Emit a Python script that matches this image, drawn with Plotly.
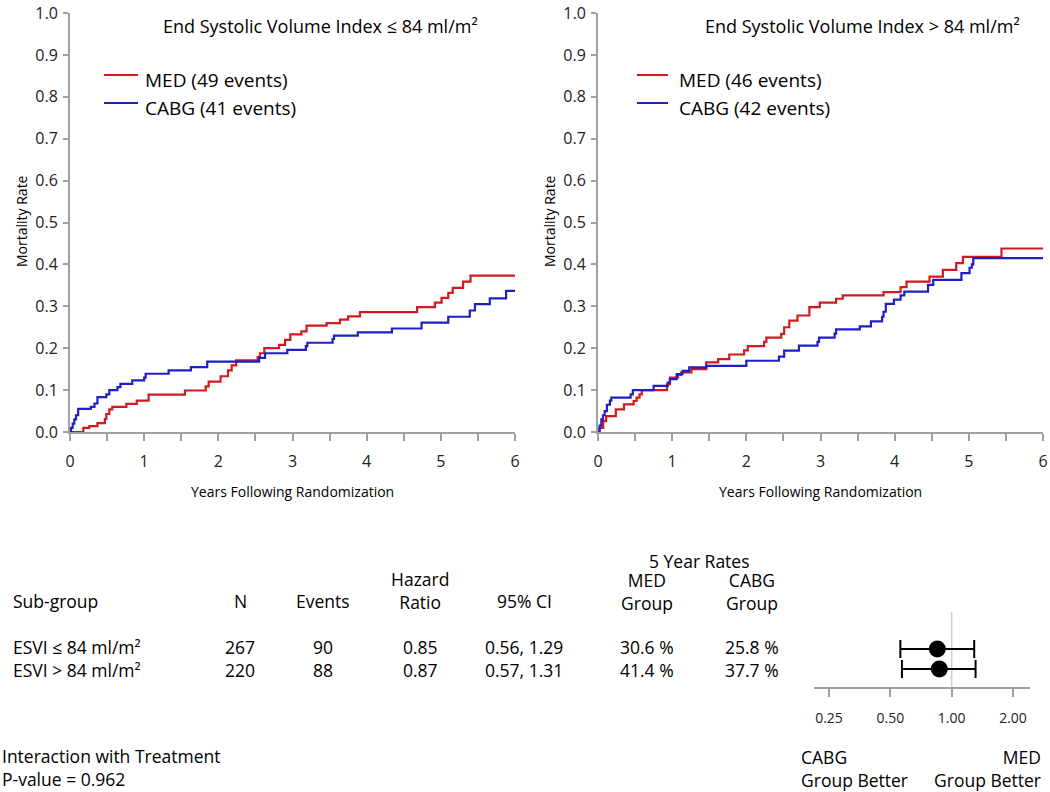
import plotly.graph_objects as go

# ---------------- data ----------------
# Left panel: ESVI <= 84 ml/m2
t_med_lo = [0, 0.18, 0.26, 0.37, 0.47, 0.49, 0.53, 0.57, 0.64, 0.76, 0.90, 1.06, 1.55, 1.83, 1.87, 1.91,
            2.03, 2.13, 2.18, 2.24, 2.53, 2.56, 2.62, 2.82, 2.90, 2.97, 3.12, 3.19, 3.46, 3.64, 3.75, 3.91,
            4.68, 4.92, 5.01, 5.10, 5.16, 5.30, 5.40, 6.0]
v_med_lo = [0, 0.010, 0.014, 0.021, 0.031, 0.043, 0.054, 0.060, 0.060, 0.067, 0.075, 0.089, 0.099, 0.109, 0.120, 0.120,
            0.133, 0.147, 0.159, 0.171, 0.179, 0.188, 0.200, 0.208, 0.220, 0.233, 0.240, 0.254, 0.260, 0.268, 0.276, 0.286,
            0.298, 0.309, 0.320, 0.332, 0.344, 0.359, 0.373, 0.373]
t_cabg_lo = [0, 0.013, 0.036, 0.058, 0.081, 0.11, 0.28, 0.33, 0.37, 0.49, 0.53, 0.64, 0.68, 0.84, 1.00, 1.02,
             1.33, 1.63, 1.85, 2.55, 2.63, 2.93, 3.18, 3.20, 3.54, 3.56, 3.88, 4.34, 4.74, 5.10, 5.39, 5.46,
             5.66, 5.88, 6.0]
v_cabg_lo = [0, 0.010, 0.020, 0.030, 0.040, 0.055, 0.060, 0.068, 0.083, 0.090, 0.100, 0.107, 0.115, 0.123, 0.130, 0.139,
             0.147, 0.155, 0.168, 0.177, 0.188, 0.196, 0.205, 0.213, 0.222, 0.230, 0.238, 0.247, 0.261, 0.275, 0.290, 0.305,
             0.319, 0.337, 0.337]

# Right panel: ESVI > 84 ml/m2
t_med_hi = [0, 0.02, 0.07, 0.11, 0.24, 0.35, 0.48, 0.52, 0.56, 0.59, 0.93, 0.97, 1.08, 1.12, 1.26, 1.46,
            1.62, 1.77, 1.97, 2.02, 2.24, 2.27, 2.47, 2.51, 2.58, 2.69, 2.85, 2.99, 3.21, 3.30, 3.85, 4.08,
            4.16, 4.47, 4.65, 4.83, 4.92, 5.44, 6.0]
v_med_hi = [0, 0.010, 0.026, 0.038, 0.054, 0.066, 0.074, 0.082, 0.090, 0.100, 0.114, 0.130, 0.136, 0.142, 0.150, 0.166,
            0.174, 0.185, 0.195, 0.205, 0.215, 0.225, 0.234, 0.250, 0.266, 0.278, 0.298, 0.309, 0.318, 0.326, 0.334, 0.346,
            0.359, 0.371, 0.387, 0.403, 0.418, 0.438, 0.438]
t_cabg_hi = [0, 0.022, 0.045, 0.067, 0.09, 0.12, 0.16, 0.18, 0.44, 0.47, 0.75, 0.94, 0.97, 1.06, 1.14, 1.23,
             1.46, 2.00, 2.44, 2.51, 2.71, 2.96, 2.98, 3.19, 3.21, 3.53, 3.68, 3.83, 3.85, 3.88, 3.99, 4.08,
             4.13, 4.45, 4.52, 4.90, 5.01, 5.04, 5.06, 6.0]
v_cabg_hi = [0, 0.015, 0.030, 0.040, 0.050, 0.065, 0.075, 0.082, 0.090, 0.100, 0.110, 0.118, 0.126, 0.138, 0.146, 0.154,
             0.158, 0.170, 0.180, 0.194, 0.206, 0.215, 0.225, 0.235, 0.245, 0.252, 0.264, 0.275, 0.287, 0.306, 0.316, 0.326,
             0.335, 0.351, 0.363, 0.379, 0.392, 0.400, 0.415, 0.415]

panel_titles = ["End Systolic Volume Index ≤ 84 ml/m²", "End Systolic Volume Index > 84 ml/m²"]
med_labels = ["MED (49 events)", "MED (46 events)"]
cabg_labels = ["CABG (41 events)", "CABG (42 events)"]

y_ticks = [0.0, 0.1, 0.2, 0.3, 0.4, 0.5, 0.6, 0.7, 0.8, 0.9, 1.0]
x_ticks = [0, 1, 2, 3, 4, 5, 6]
x_minor_ticks = [0.5, 1.5, 2.5, 3.5, 4.5, 5.5]

# Sub-group table / forest plot
subgroups = ["ESVI ≤ 84 ml/m²", "ESVI > 84 ml/m²"]
n_pat = [267, 220]
events = [90, 88]
hr = [0.85, 0.87]
ci_lo = [0.56, 0.57]
ci_hi = [1.29, 1.31]
med_rate = [30.6, 41.4]
cabg_rate = [25.8, 37.7]
forest_ticks = [0.25, 0.50, 1.00, 2.00]
p_interaction = 0.962

# ---------------- figure ----------------
W, H = 1050, 792
RED = "#d01a1f"
BLUE = "#1f1fc4"
GRAY = "#a0a0a0"
FONT = "Open Sans"
TXT = 17.5


def px(x):
    return x / W


def py(y):
    return 1 - y / H


fig = go.Figure()

curves = [
    (t_med_lo, v_med_lo, RED, "x", "y"),
    (t_cabg_lo, v_cabg_lo, BLUE, "x", "y"),
    (t_med_hi, v_med_hi, RED, "x2", "y2"),
    (t_cabg_hi, v_cabg_hi, BLUE, "x2", "y2"),
]
for t, v, c, xa, ya in curves:
    fig.add_trace(go.Scatter(x=t, y=v, mode="lines", line=dict(color=c, width=2.2, shape="hv"),
                             xaxis=xa, yaxis=ya, showlegend=False, hoverinfo="skip"))

# forest plot
rows_y = [2, 1]
fig.add_trace(go.Scatter(
    x=hr, y=rows_y, mode="markers",
    marker=dict(color="black", size=17),
    error_x=dict(type="data", symmetric=False,
                 array=[h - e for h, e in zip(ci_hi, hr)],
                 arrayminus=[h - l for h, l in zip(hr, ci_lo)],
                 color="black", thickness=2, width=9),
    xaxis="x3", yaxis="y3", showlegend=False, hoverinfo="skip"))

ydom = [py(432), py(13)]
common_x = dict(range=[0, 6], tickvals=x_ticks, ticks="outside", ticklen=7, tickwidth=1.5, tickcolor=GRAY,
                minor=dict(tickvals=x_minor_ticks, ticks="outside", ticklen=7, tickwidth=1.5, tickcolor=GRAY),
                showline=True, linecolor=GRAY, linewidth=2, showgrid=False, zeroline=False,
                tickfont=dict(size=16, color="#222"), ticklabelstandoff=7, ticklabeloverflow="allow",
                automargin=False, fixedrange=True)
common_y = dict(range=[0, 1], tickvals=y_ticks, tickformat=".1f", ticks="outside", ticklen=5, tickwidth=1.5,
                tickcolor=GRAY, showline=True, linecolor=GRAY, linewidth=2, showgrid=False, zeroline=False,
                tickfont=dict(size=16, color="#222"), ticklabelstandoff=2, ticklabeloverflow="allow",
                automargin=False, fixedrange=True)

fig.update_layout(
    width=W, height=H, margin=dict(l=0, r=0, t=0, b=0, pad=0, autoexpand=False),
    paper_bgcolor="white", plot_bgcolor="white",
    font=dict(family=FONT, color="black"),
    xaxis=dict(domain=[px(70), px(515)], anchor="y", **common_x),
    yaxis=dict(domain=ydom, anchor="x", **common_y),
    xaxis2=dict(domain=[px(598), px(1043)], anchor="y2", **common_x),
    yaxis2=dict(domain=ydom, anchor="x2", **common_y),
    xaxis3=dict(domain=[px(814), px(1030)], anchor="y3", type="log", range=[-0.6757, 0.3844],
                tickvals=forest_ticks, ticktext=[f"{v:.2f}" for v in forest_ticks],
                ticks="outside", ticklen=8, tickwidth=1.5, tickcolor=GRAY,
                showline=True, linecolor=GRAY, linewidth=2, showgrid=False, zeroline=False,
                tickfont=dict(size=14, color="#222"), ticklabelstandoff=9, ticklabeloverflow="allow",
                automargin=False, fixedrange=True),
    yaxis3=dict(domain=[py(687), py(612)], anchor="x3", range=[0.1, 3.85], visible=False,
                automargin=False, fixedrange=True),
)

# reference line at HR = 1
fig.add_shape(type="line", xref="x3", yref="y3", x0=1, x1=1, y0=0.1, y1=3.85,
              line=dict(color="#cfcfcf", width=1.5), layer="below")

ann = []


def text(x, y, s, size=TXT, xanchor="center", angle=0):
    ann.append(dict(x=px(x), y=py(y), xref="paper", yref="paper", text=s, showarrow=False,
                    xanchor=xanchor, yanchor="middle", textangle=angle, align=xanchor if xanchor != "center" else "center",
                    font=dict(size=size, family=FONT, color="black")))


# panel titles, axis titles, legends
title_cx = [320, 862]
leg_line = [(104, 138), (637, 668)]
leg_text = [143, 677]
for i, x0 in enumerate([70, 598]):
    text(title_cx[i], 26, panel_titles[i], size=18)
    text(x0 + 222, 491, "Years Following Randomization", size=14)
    text(x0 - 48, 221, "Mortality Rate", size=14, angle=-90)
    for j, (lab, col) in enumerate([(med_labels[i], RED), (cabg_labels[i], BLUE)]):
        yy = 80 + j * 28
        fig.add_shape(type="line", xref="paper", yref="paper", x0=px(leg_line[i][0]), x1=px(leg_line[i][1]),
                      y0=py(yy - 5), y1=py(yy - 5), line=dict(color=col, width=2))
        text(leg_text[i], yy, lab, size=19, xanchor="left")

# table header
col_n, col_ev, col_hr, col_ci, col_med, col_cabg = 240, 323, 420, 524, 647, 752
text(11, 601, "Sub-group", xanchor="left")
text(col_n, 601, "N")
text(col_ev, 601, "Events")
text(col_hr, 590.5, "Hazard<br>Ratio")
text(col_ci, 601, "95% CI")
text((col_med + col_cabg) / 2, 561, "5 Year Rates")
text(col_med, 591, "MED<br>Group")
text(col_cabg, 591, "CABG<br>Group")

# table body (one multi-line text per column)
row_cy = 658.5
text(11, row_cy, "<br>".join(subgroups), xanchor="left")
text(col_n, row_cy, "<br>".join(str(v) for v in n_pat))
text(col_ev, row_cy, "<br>".join(str(v) for v in events))
text(col_hr, row_cy, "<br>".join(f"{v:.2f}" for v in hr))
text(col_ci, row_cy, "<br>".join(f"{a:.2f}, {b:.2f}" for a, b in zip(ci_lo, ci_hi)))
text(col_med, row_cy, "<br>".join(f"{v:.1f} %" for v in med_rate))
text(col_cabg, row_cy, "<br>".join(f"{v:.1f} %" for v in cabg_rate))

text(0, 767.5, f"Interaction with Treatment<br>P-value = {p_interaction:.3f}", xanchor="left")
text(799, 768.5, "CABG<br>Group Better", xanchor="left")
text(1043, 768.5, "MED<br>Group Better", xanchor="right")

fig.update_layout(annotations=ann)
fig.write_html("out.html", config={"displayModeBar": False},
               post_script="document.body.style.margin='0';")
